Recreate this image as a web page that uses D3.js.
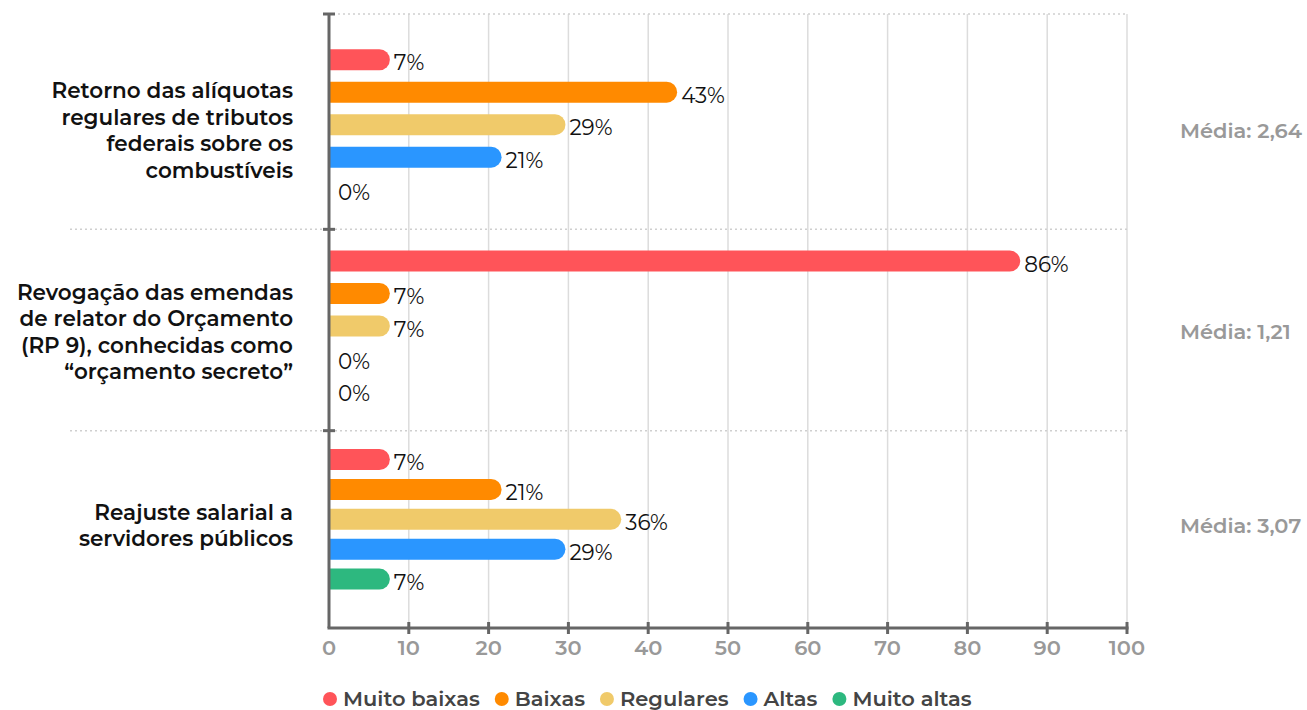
<!DOCTYPE html>
<meta charset="utf-8">
<title>Expectativas</title>
<style>
body { margin: 0; background: #fff; font-family: Montserrat, "DejaVu Sans", sans-serif; }
.grid line { stroke: #dcdcdc; stroke-width: 1.5; }
.sep { stroke: #cfcfcf; stroke-width: 1.5; stroke-dasharray: 2,3; }
.axis-line { stroke: #666; stroke-width: 3; }
.tick-lbl { fill: #999; font-size: 21px; font-weight: 600; }
.val { fill: #111; font-size: 21.5px; }
.cat { fill: #111; font-size: 21.5px; font-weight: 600; }
.media { fill: #999; font-size: 21px; font-weight: 600; }
.leg { fill: #444; font-size: 21px; font-weight: 600; }
</style>
<svg width="1307" height="710"></svg>
<script src="https://d3js.org/d3.v7.min.js"></script>
<script>
const categories = [
  ["Retorno das alíquotas", "regulares de tributos", "federais sobre os", "combustíveis"],
  ["Revogação das emendas", "de relator do Orçamento", "(RP 9), conhecidas como", "“orçamento secreto”"],
  ["Reajuste salarial a", "servidores públicos"]
];
const series = ["Muito baixas", "Baixas", "Regulares", "Altas", "Muito altas"];
const colors = ["#ff5459", "#ff8a00", "#f0ca6a", "#2a96ff", "#2db87f"];
const values = [
  [7, 43, 29, 21, 0],
  [86, 7, 7, 0, 0],
  [7, 21, 36, 29, 7]
];
const medias = ["Média: 2,64", "Média: 1,21", "Média: 3,07"];
const xTicks = [0, 10, 20, 30, 40, 50, 60, 70, 80, 90, 100];

const svg = d3.select("svg");
const plotLeft = 329, plotRight = 1127, plotTop = 14, plotBottom = 628;

const x = d3.scaleLinear().domain([0, 100]).range([plotLeft, plotRight]);
// group bands (slightly offset from the plot frame, as in the original)
const y = d3.scaleBand().domain(d3.range(categories.length)).range([28, 632]);
const sepYs = [plotTop, y(1), y(2)];

// vertical grid
svg.append("g").attr("class", "grid")
  .selectAll("line").data(xTicks.slice(1)).enter().append("line")
  .attr("x1", d => x(d)).attr("x2", d => x(d))
  .attr("y1", plotTop).attr("y2", plotBottom);

// dotted separators between groups
svg.selectAll(".sep").data(sepYs).enter().append("line")
  .attr("class", "sep")
  .attr("x1", (d, i) => i === 0 ? plotLeft + 4 : 70).attr("x2", plotRight)
  .attr("y1", d => d).attr("y2", d => d);

// groups
categories.forEach((cat, gi) => {
  const g = svg.append("g");
  const b0 = y(gi), b1 = Math.min(b0 + y.bandwidth(), plotBottom - 12);
  const inner = d3.scaleBand().domain(series).range([b0, b1]).paddingOuter(0.6);
  const h = 21, r = h / 2;

  values[gi].forEach((v, si) => {
    const cy = inner(series[si]) + inner.bandwidth() / 2 - 4;
    let end = x(0) + 5;
    if (v > 0) {
      end = x(v) + 5;
      const y0 = cy - h / 2;
      g.append("path")
        .attr("d", `M${x(0)},${y0}H${end - r}A${r},${r} 0 0 1 ${end - r},${y0 + h}H${x(0)}Z`)
        .attr("fill", colors[si]);
    }
    g.append("text").attr("class", "val")
      .attr("x", end + 4).attr("y", cy + 3).attr("dy", "0.35em")
      .text(v + "%");
  });

  const mid = (b0 + b1) / 2 + 2;
  const lh = 26.5;
  const t = g.append("text").attr("class", "cat").attr("text-anchor", "end");
  cat.forEach((line, li) => {
    t.append("tspan").attr("x", 293)
      .attr("y", mid + (li - (cat.length - 1) / 2) * lh)
      .attr("dy", "0.35em").text(line);
  });

  g.append("text").attr("class", "media")
    .attr("x", 1180).attr("y", mid).attr("dy", "0.35em")
    .text(medias[gi]);
});

// y axis
svg.append("line").attr("class", "axis-line")
  .attr("x1", plotLeft).attr("x2", plotLeft).attr("y1", plotTop - 1).attr("y2", plotBottom);
svg.selectAll(".ytick").data(sepYs).enter().append("line")
  .attr("class", "axis-line ytick")
  .attr("x1", plotLeft - 6).attr("x2", plotLeft + 6)
  .attr("y1", d => d).attr("y2", d => d);

// x axis
svg.append("line").attr("class", "axis-line")
  .attr("x1", plotLeft - 1.5).attr("x2", plotRight + 1.5).attr("y1", plotBottom).attr("y2", plotBottom);
svg.selectAll(".xtick").data(xTicks.slice(1)).enter().append("line")
  .attr("class", "axis-line xtick")
  .attr("x1", d => x(d)).attr("x2", d => x(d))
  .attr("y1", plotBottom - 6).attr("y2", plotBottom + 6);
svg.selectAll(".tick-lbl").data(xTicks).enter().append("text")
  .attr("class", "tick-lbl").attr("text-anchor", "middle")
  .attr("x", d => x(d)).attr("y", 648).attr("dy", "0.35em")
  .text(d => d);

// legend
const leg = svg.append("g");
let lx = 330;
series.forEach((s, i) => {
  leg.append("circle").attr("cx", lx).attr("cy", 699).attr("r", 7).attr("fill", colors[i]);
  const t = leg.append("text").attr("class", "leg")
    .attr("x", lx + 13).attr("y", 699).attr("dy", "0.35em").text(s);
  lx += 13 + t.node().getComputedTextLength() + 22;
});
</script>
